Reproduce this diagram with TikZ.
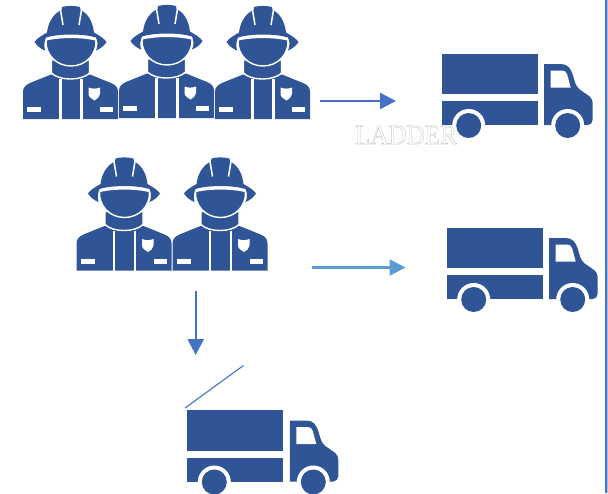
\documentclass[tikz,border=0pt]{standalone}
\usepackage{fontspec}
\setmainfont{Liberation Serif}
\usetikzlibrary{arrows.meta}
\definecolor{iconblue}{HTML}{2F5597}
\definecolor{arrowblue}{HTML}{4472C4}
\definecolor{lightarrow}{HTML}{5B9BD5}
\newcommand{\outlinedtext}[1]{\special{pdf:code q 2 Tr 0.45 w 0.78 0.78 0.78 RG 1 1 1 rg}#1\special{pdf:code Q}}
\tikzset{
  x=1pt,y=-1pt,
  iconfill/.style={fill=iconblue,draw=none},
  iconcut/.style={fill=iconblue,draw=white,line width=1.4pt,line join=round},
  gapline/.style={draw=white,line width=2.2pt},
  whitefill/.style={fill=white,draw=none},
  flow/.style={draw=arrowblue,line width=2.4pt,-{Triangle[length=16pt,width=16pt]}},
  flowlight/.style={flow,draw=lightarrow},
  thinline/.style={draw=arrowblue,line width=1.1pt},
  firefighter/.pic={
    % body
    \path[iconfill] (-48,119) -- (-48,92) .. controls (-48,87) and (-45,85) .. (-41,83)
      -- (-20,74.5) -- (19,74.5) -- (40,83) .. controls (45,85) and (47,88) .. (47,92)
      -- (47,119) -- cycle;
    \path[gapline] (-10.5,79) -- (-10.5,120);
    \path[gapline] (10.5,79) -- (10.5,120);
    % name plates and badge
    \path[whitefill] (-44,107) rectangle (-30,112);
    \path[whitefill] (29,107) rectangle (42,112);
    \path[whitefill] (17.5,87.5) .. controls (21,89) and (25,89) .. (29,87.5)
      -- (29,94) .. controls (29,97) and (26,99) .. (23.5,100.5)
      .. controls (21,99) and (17.5,97) .. (17.5,94) -- cycle;
    % collar
    \path[iconcut] (-19.5,60) -- (-19.5,73) .. controls (-12,81) and (11,81) .. (18.5,73) -- (18.5,60) -- cycle;
    % face
    \path[iconcut] (-25,40) .. controls (-12,36.5) and (12,36.5) .. (25,40)
      .. controls (26,54) and (15,66) .. (0,66)
      .. controls (-15,66) and (-26,54) .. (-25,40) -- cycle;
    % helmet
    \path[iconfill] (-36.5,42) .. controls (-34,38) and (-28,35) .. (-24,32.5)
      .. controls (-22.5,20) and (-16,13) .. (-9.5,10) -- (-9,7)
      .. controls (-4,5.5) and (4,5.5) .. (9,7) -- (9.5,10)
      .. controls (16,13) and (21.5,20) .. (23,32.5)
      .. controls (27,35) and (33,38) .. (35.5,42)
      .. controls (33,46) and (29,49) .. (25,50.5)
      .. controls (27,46) and (27,42) .. (25,37.5)
      .. controls (12,33.5) and (-12,33.5) .. (-25,37.5)
      .. controls (-27,42) and (-27,46) .. (-26,50.5)
      .. controls (-30,49) and (-34,46) .. (-36.5,42) -- cycle;
    \path[draw=white,line width=1.5pt] (-10.5,10) -- (-8,25);
    \path[draw=white,line width=1.5pt] (10.5,10) -- (8,25);
  },
  truck/.pic={
    \path[iconfill] (0,0) rectangle (96,40.7);
    \path[iconfill] (0,47.5) rectangle (96,71.5);
    \path[iconfill] (102.5,10.5) -- (119,10.5) .. controls (126,10.5) and (129,15) .. (131,21)
      .. controls (133,28) and (134,33) .. (138,36) -- (148,43)
      .. controls (150,45) and (151,47) .. (151,50) -- (151,66)
      .. controls (151,69) and (149,71.5) .. (146,71.5) -- (102.5,71.5) -- cycle;
    \path[whitefill] (109,17) -- (120,17) .. controls (123,17) and (124.5,18) .. (125.5,21)
      -- (129,34) -- (109,34) -- cycle;
    \path[whitefill] (27,72) circle (16.5);
    \path[whitefill] (126,72) circle (16.5);
    \path[iconfill] (27,72) circle (12.5);
    \path[iconfill] (126,72) circle (12.5);
  },
}
\begin{document}
\begin{tikzpicture}
\useasboundingbox (0,0) rectangle (608,493);
% border at the right
\draw[draw=arrowblue!45,line width=2pt] (607.2,0) -- (607.2,493);
\draw[draw=arrowblue,line width=1.2pt] (606,0) -- (606,493);
% crew
\pic at (71,0) {firefighter};
\pic at (167,-1) {firefighter};
\pic at (263,0) {firefighter};
\pic at (124.5,151.5) {firefighter};
\pic at (220.5,151.5) {firefighter};
% trucks
\pic at (441.7,53.5) {truck};
\pic at (446.7,227.5) {truck};
\pic at (187.3,410) {truck};
% connectors
\coordinate (a1s) at (320,101);
\coordinate (a1e) at (396,101);
\coordinate (a2s) at (312,267.5);
\coordinate (a2e) at (405.5,267.5);
\coordinate (a3s) at (195.7,291);
\coordinate (a3e) at (195.7,355);
\coordinate (ls) at (185,408);
\coordinate (le) at (243.5,365.5);
\draw[flow] (a1s) -- (a1e);
\draw[flowlight] (a2s) -- (a2e);
\draw[flow] (a3s) -- (a3e);
\draw[thinline] (ls) -- (le);
% label
\node[inner sep=0pt,font=\fontsize{28}{28}\selectfont,transform shape,xscale=0.9] (ladder) at (406,135) {\outlinedtext{LADDER}};
\end{tikzpicture}
\end{document}
